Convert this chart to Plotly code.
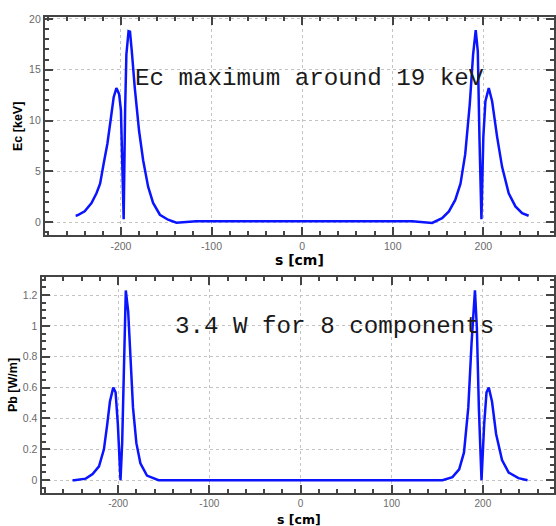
import plotly.graph_objects as go

# ---- data: upper panel (critical energy) ----
s_ec = [-250, -248, -240, -232.5, -227, -223, -219, -215, -211, -208, -205, -202, -200,
        -198.7, -197, -195.4, -194, -191.6, -190, -188, -184.7, -180, -175.5, -170,
        -164.5, -157, -148, -138.7, -127.7, -117, -100, -50, 0, 50, 100, 121.5,
        143.5, 154.5, 162, 169, 174.8, 180, 185, 188.7, 191.6, 193.9, 195.7, 197.9,
        200, 202.3, 206, 209.7, 215.2, 220.7, 228, 235.4, 242.8, 250]
ec_kev = [0.65, 0.68, 1.07, 1.88, 2.85, 3.8, 5.8, 7.7, 10.3, 12.3, 13.2, 12.6, 11.0,
          5.1, 0.3, 11.0, 16.5, 18.8, 18.75, 16.8, 13.2, 9.0, 6.1, 3.5,
          1.9, 0.74, 0.25, -0.04, 0.06, 0.1, 0.1, 0.1, 0.1, 0.1, 0.1, 0.1,
          -0.07, 0.4, 1.07, 2.2, 3.8, 6.7, 11.6, 16.5, 18.9, 16.8, 8.4, 0.3,
          8.4, 11.9, 13.2, 11.9, 8.4, 5.45, 2.85, 1.56, 0.9, 0.64]

# ---- data: lower panel (power density) ----
s_pb = [-250, -248, -235.5, -228, -221, -215.6, -212, -209, -205.4, -202.8, -200.3,
        -197.4, -195.6, -193.8, -191.6, -189, -186.5, -183.7, -180, -175.6, -168.4,
        -155.7, -100, 0, 100, 155.7, 166.6, 174, 179.3, 184, 187.6, 191.3, 193.4,
        195.6, 198.5, 201.4, 204, 206.5, 210, 214.5, 221, 228.3, 239, 249]
pb_wm = [0.0, 0.0, 0.01, 0.04, 0.09, 0.2, 0.36, 0.51, 0.6, 0.57, 0.36,
         0.0, 0.24, 0.78, 1.23, 1.095, 0.78, 0.47, 0.24, 0.11, 0.03,
         0.0, 0.0, 0.0, 0.0, 0.0, 0.02, 0.07, 0.18, 0.47, 0.89, 1.23, 0.99,
         0.47, 0.0, 0.36, 0.57, 0.6, 0.51, 0.3, 0.13, 0.05, 0.013, 0.0]

ec_ticks = [0, 5, 10, 15, 20]
pb_ticks = [0, 0.2, 0.4, 0.6, 0.8, 1, 1.2]
pb_ticktext = ["0", "0.2", "0.4", "0.6", "0.8", "1", "1.2"]
s_ticks = [-200, -100, 0, 100, 200]
s_ticktext = ["-200", "-100", "0", "100", "200"]

x_title = "<b>s [cm]</b>"
note_top = "Ec maximum around 19 keV"
note_bottom = "3.4 W for 8 components"

W, H = 556, 526
LINE = "#444444"
TICKFONT = dict(family="Liberation Sans", size=10.5, color="#6a6a6a")
XTITLEFONT = dict(family="DejaVu Sans", size=14, color="#000000")
YTITLEFONT = dict(family="Liberation Sans", size=12.5, color="#000000")

fig = go.Figure()
fig.add_trace(go.Scatter(x=s_ec, y=ec_kev, mode="lines", xaxis="x", yaxis="y",
                         line=dict(color="#0a14ff", width=2.5), showlegend=False))
fig.add_trace(go.Scatter(x=s_pb, y=pb_wm, mode="lines", xaxis="x2", yaxis="y2",
                         line=dict(color="#0a14ff", width=2.5), showlegend=False))

def common(minor_dtick, tickfont=TICKFONT):
    return dict(showline=True, linecolor=LINE, linewidth=2, mirror="allticks",
                ticks="inside", ticklen=8, tickwidth=2, tickcolor=LINE,
                showgrid=True, gridcolor="#c4c4c4", griddash="dot", gridwidth=1,
                zeroline=False, tickfont=tickfont,
                minor=dict(ticks="inside", ticklen=4, tickwidth=1.5, tickcolor=LINE,
                           dtick=minor_dtick, showgrid=False))

xr = [-284, 278]
fig.update_layout(
    width=W, height=H, margin=dict(l=0, r=0, t=0, b=0),
    paper_bgcolor="white", plot_bgcolor="white",
    xaxis=dict(domain=[45 / W, 1], anchor="y", range=xr, tickvals=s_ticks,
               ticktext=s_ticktext,
               title=dict(text=x_title, font=XTITLEFONT, standoff=0),
               **common(20)),
    yaxis=dict(domain=[1 - 232.7 / H, 1 - 12.3 / H], anchor="x", range=[-1.3, 20.17],
               tickvals=ec_ticks,
               title=dict(text="<b>Ec [keV]</b>", font=YTITLEFONT, standoff=4),
               **common(1)),
    xaxis2=dict(domain=[41.7 / W, 1], anchor="y2", range=xr, tickvals=s_ticks,
                ticktext=s_ticktext,
                **common(20, dict(family="Liberation Sans", size=10, color="#6a6a6a"))),
    yaxis2=dict(domain=[1 - 493 / H, 1 - 274.3 / H], anchor="x2", range=[-0.085, 1.319],
                tickvals=pb_ticks, ticktext=pb_ticktext,
                title=dict(text="<b>Pb [W/m]</b>", font=YTITLEFONT, standoff=2),
                **common(0.05)),
    annotations=[
        dict(text=x_title, xref="paper", yref="paper", x=300 / W, y=-2 / H,
             showarrow=False, xanchor="center", yanchor="bottom", borderpad=0,
             font=dict(family="DejaVu Sans", size=12.5, color="#000000")),
        dict(text=note_top, xref="paper", yref="paper", x=311 / W, y=1 - 74 / H,
             showarrow=False, xanchor="center", yanchor="middle",
             font=dict(family="Liberation Mono", size=24.2, color="#1a1a1a")),
        dict(text=note_bottom, xref="paper", yref="paper", x=335.5 / W, y=1 - 325 / H,
             showarrow=False, xanchor="center", yanchor="middle",
             font=dict(family="Liberation Mono", size=24.2, color="#1a1a1a")),
    ],
)

fig.write_html("out.html")
